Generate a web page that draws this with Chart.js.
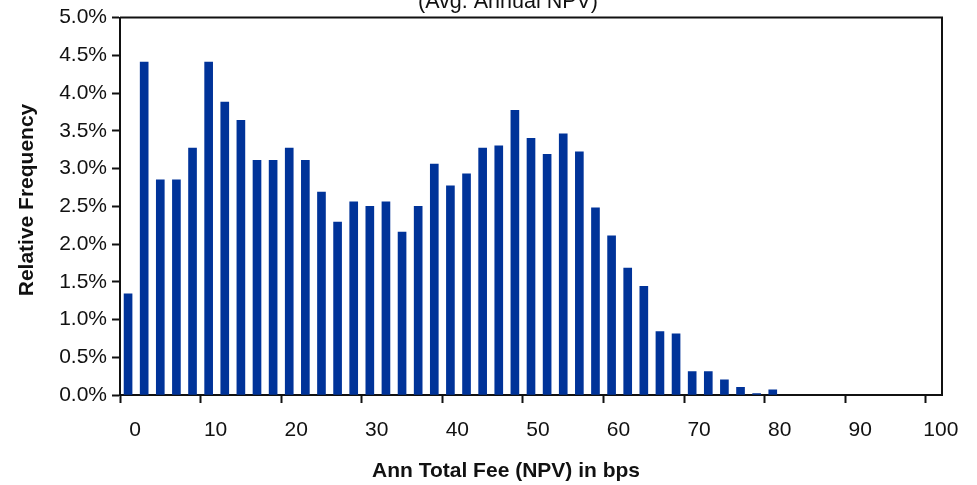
<!DOCTYPE html>
<html>
<head>
<meta charset="utf-8">
<script src="https://cdn.jsdelivr.net/npm/chart.js@4/dist/chart.umd.min.js"></script>
<style>
  html, body { margin: 0; padding: 0; background: #ffffff; }
  #wrap { width: 977px; height: 485px; position: relative; }
</style>
</head>
<body>
<div id="wrap"><canvas id="c" width="977" height="485"></canvas></div>
<script>
// Histogram bins (lower edge, bps) and relative frequency (%)
const binStarts = [0,2,4,6,8,10,12,14,16,18,20,22,24,26,28,30,32,34,36,38,40,42,44,46,48,50,52,54,56,58,60,62,64,66,68,70,72,74,76,78,80];
const relFreq = [1.34,4.41,2.85,2.85,3.27,4.41,3.88,3.64,3.11,3.11,3.27,3.11,2.69,2.29,2.56,2.50,2.56,2.16,2.50,3.06,2.77,2.93,3.27,3.30,3.77,3.40,3.19,3.46,3.22,2.48,2.11,1.68,1.44,0.84,0.81,0.31,0.31,0.20,0.10,0.02,0.07];
const binWidth = 2;
const xTickValues = [0,10,20,30,40,50,60,70,80,90,100];
const yTickValues = [0,0.5,1.0,1.5,2.0,2.5,3.0,3.5,4.0,4.5,5.0];
const titleText = "(Avg. Annual NPV)";
const xTitle = "Ann Total Fee (NPV) in bps";
const yTitle = "Relative Frequency";

const FONT = "'Liberation Sans', Arial, sans-serif";
const INK = "#111111";

const points = binStarts.map((b, i) => ({ x: b + binWidth / 2, y: relFreq[i] }));

const decor = {
  id: 'decor',
  afterDraw(chart) {
    const ctx = chart.ctx;
    const a = chart.chartArea;
    ctx.save();
    // frame (top and right)
    ctx.strokeStyle = INK;
    ctx.lineWidth = 2;
    ctx.beginPath();
    ctx.moveTo(a.left, a.top);
    ctx.lineTo(a.right, a.top);
    ctx.lineTo(a.right, a.bottom);
    ctx.stroke();
    // title (partially cut off at top)
    ctx.fillStyle = INK;
    ctx.font = "21.5px " + FONT;
    ctx.textAlign = 'center';
    ctx.textBaseline = 'alphabetic';
    ctx.fillText(titleText, 508, 8);
    // x title
    ctx.font = "bold 21px " + FONT;
    ctx.fillText(xTitle, 506, 477);
    // y title
    ctx.translate(33, 200);
    ctx.rotate(-Math.PI / 2);
    ctx.fillText(yTitle, 0, 0);
    ctx.restore();
  }
};

new Chart(document.getElementById('c'), {
  type: 'bar',
  data: {
    datasets: [{
      data: points,
      backgroundColor: '#003399',
      borderWidth: 0,
      barThickness: 8
    }]
  },
  options: {
    responsive: false,
    animation: false,
    events: [],
    layout: { padding: { top: 17, right: 35, left: 0, bottom: 0 } },
    plugins: { legend: { display: false }, title: { display: false }, tooltip: { enabled: false } },
    scales: {
      x: {
        type: 'linear',
        offset: false,
        min: 0,
        max: 102,
        afterBuildTicks(scale) { scale.ticks = xTickValues.map(v => ({ value: v })); },
        afterFit(scale) { scale.height = 90; },
        grid: { display: true, offset: false, drawOnChartArea: false, drawTicks: true, tickLength: 8, tickColor: INK, tickWidth: 2 },
        border: { display: true, color: INK, width: 2 },
        ticks: {
          autoSkip: false,
          maxRotation: 0,
          labelOffset: 15,
          padding: 15,
          color: INK,
          font: { family: FONT, size: 21 },
          callback: v => String(v)
        }
      },
      y: {
        min: 0,
        max: 5,
        afterBuildTicks(scale) { scale.ticks = yTickValues.map(v => ({ value: v })); },
        afterFit(scale) { scale.width = 120; },
        grid: { display: true, offset: false, drawOnChartArea: false, drawTicks: true, tickLength: 8, tickColor: INK, tickWidth: 2 },
        border: { display: true, color: INK, width: 2 },
        ticks: {
          padding: 5,
          color: INK,
          font: { family: FONT, size: 21 },
          callback: v => Number(v).toFixed(1) + '%'
        }
      }
    }
  },
  plugins: [decor]
});
</script>
</body>
</html>
